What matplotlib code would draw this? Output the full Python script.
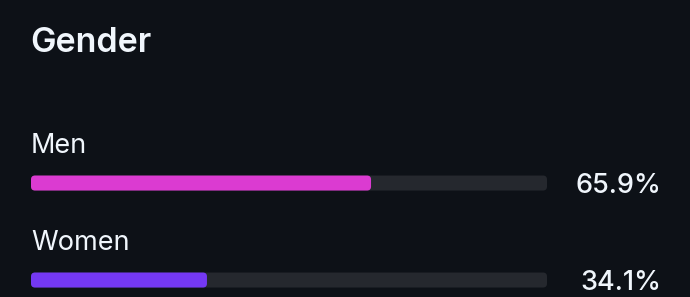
import matplotlib
matplotlib.use("Agg")
import matplotlib.pyplot as plt
from matplotlib.patches import FancyBboxPatch

plt.rcParams.update({"font.family": ["Inter", "DejaVu Sans"]})

BG = "#0d1117"; TRACK = "#25282e"; TXT = "#f0f6fc"

title = "Gender"
labels = ["Men", "Women"]
values = [65.9, 34.1]
colors = ["#db3bd1", "#7438f3"]

W, H = 690, 297
fig = plt.figure(figsize=(W / 100, H / 100), dpi=100, facecolor=BG)
# axes spans the track width (31..547 px) and the full height
ax = fig.add_axes([31 / W, 0, 516 / W, 1])
ax.set_facecolor("none")
ax.axis("off")
ax.set_xlim(0, 100)
ax.set_ylim(1.175, -1.887)   # row 0 at 183px from top, 97px per row

px_x = 100 / 516            # x data units per pixel
px_y = 3.062 / H            # y data units per pixel
bar_h = 15 * px_y
r = 4 * px_x
asp = px_y / px_x

for i, (lab, v, c) in enumerate(zip(labels, values, colors)):
    for width, col in [(100, TRACK), (v, c)]:
        ax.add_patch(FancyBboxPatch((0, i - bar_h / 2), width, bar_h,
                                    boxstyle=f"round,pad=0,rounding_size={r}",
                                    mutation_aspect=asp, fc=col, ec="none", lw=0))
    ax.text(0, i - 30 * px_y, lab, fontsize=19.5, color=TXT, va="baseline", ha="left")
    ax.text(122.2, i + 10 * px_y, f"{v:.1f}%", fontsize=19.5, fontweight="medium",
            color=TXT, va="baseline", ha="right")

fig.text(30 / W, 1 - 52 / H, title, fontsize=24.5, fontweight="semibold",
         color=TXT, va="baseline", ha="left")

fig.savefig("out.png", dpi=100, facecolor=BG)
